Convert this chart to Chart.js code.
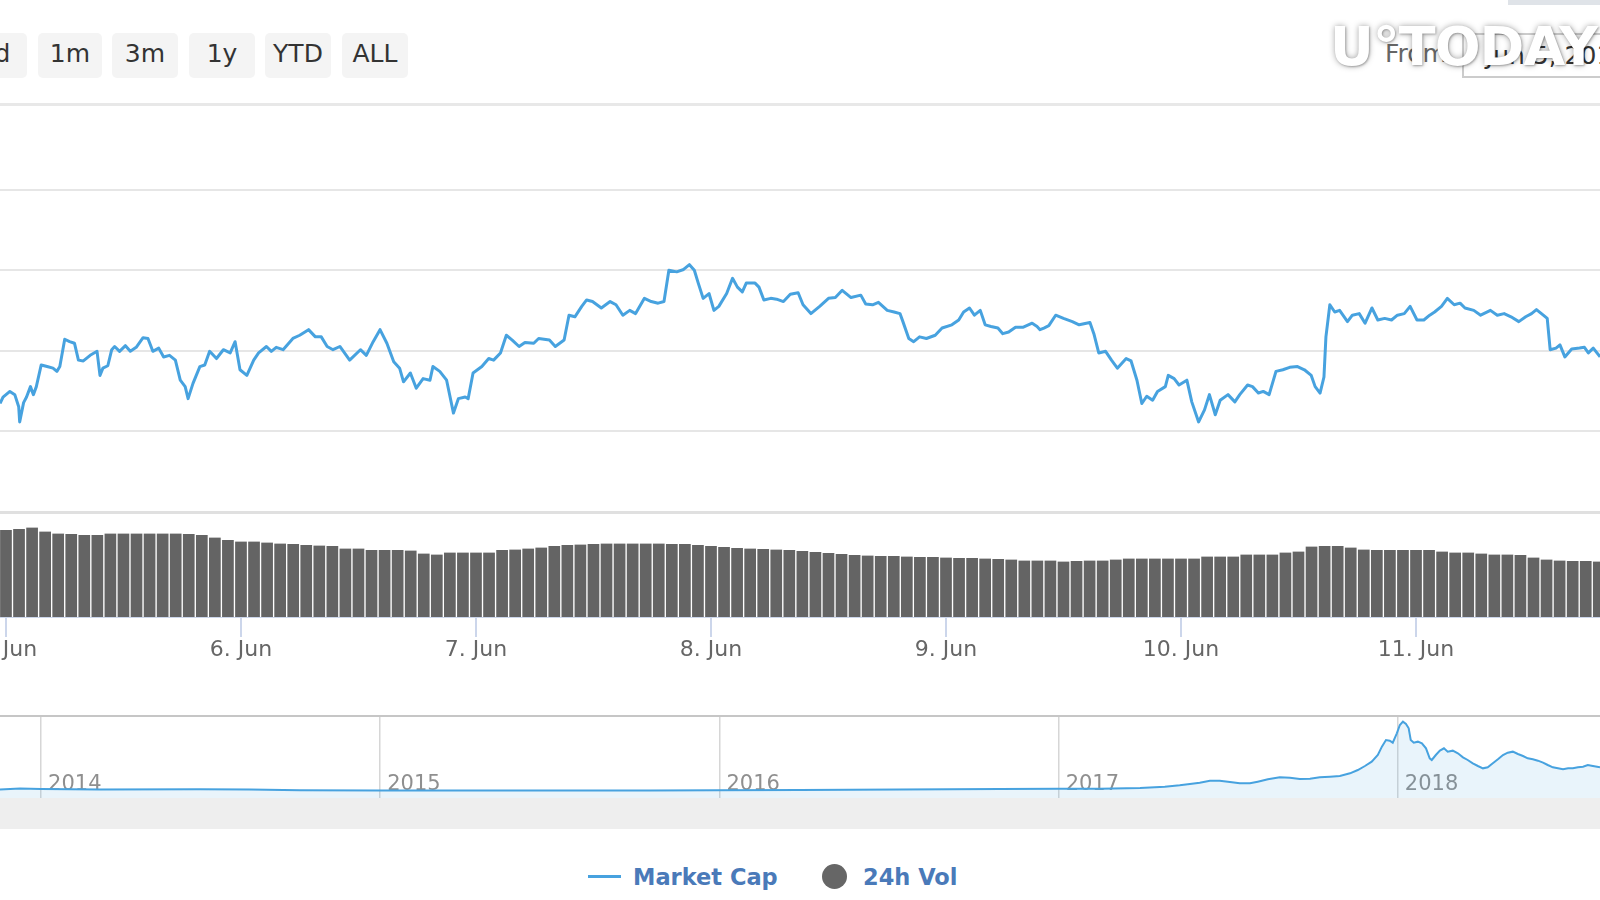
<!DOCTYPE html>
<html>
<head>
<meta charset="utf-8">
<title>Market Cap / 24h Vol</title>
<script src="https://cdn.jsdelivr.net/npm/chart.js@4.4.1/dist/chart.umd.min.js"></script>
<style>
  html, body { margin: 0; padding: 0; background: #fff; }
  body { width: 1600px; height: 900px; position: relative; overflow: hidden; font-family: 'DejaVu Sans', sans-serif; }
  canvas { position: absolute; left: 0; }
  .btn { position: absolute; top: 33px; height: 45px; width: 66px; border-radius: 5px; background: #f4f4f4; color: #333; font-size: 25px; line-height: 41px; text-align: center; }
  .rule { position: absolute; left: 0; width: 1600px; }
  .from-label { position: absolute; left: 1385px; top: 33px; font-size: 25px; line-height: 41px; color: #666; }
  .from-input { position: absolute; left: 1462px; top: 33px; width: 190px; height: 45px; box-sizing: border-box; border: 2px solid #cccccc; font-size: 25px; line-height: 41px; color: #333; text-align: center; }
  .watermark { position: absolute; left: 1330px; top: 20px; font-size: 54px; line-height: 54px; font-weight: bold; letter-spacing: -1px; color: #fff;
               text-shadow: 0 0 6px rgba(0,0,0,0.35), 1px 1px 2px rgba(0,0,0,0.25); white-space: nowrap; }
  .leg-text { position: absolute; top: 864px; font-size: 22.5px; line-height: 26px; font-weight: bold; color: #4a7ab9; white-space: nowrap; }
</style>
</head>
<body>

<!-- range selector -->
<div class="btn" style="left:-38px;width:65px">7d</div>
<div class="btn" style="left:38px;width:64px">1m</div>
<div class="btn" style="left:112px">3m</div>
<div class="btn" style="left:189px">1y</div>
<div class="btn" style="left:265px">YTD</div>
<div class="btn" style="left:342px">ALL</div>

<div style="position:absolute;left:1508px;top:0;width:92px;height:5px;background:#dfe3e8"></div>
<div class="from-label">From</div>
<div class="from-input">Jun 5, 2018</div>
<div class="watermark">U°TODAY</div>

<div class="rule" style="top:103px;height:3px;background:#e8e8e8"></div>

<canvas id="priceChart" width="1600" height="407" style="top:104px"></canvas>
<div class="rule" style="top:511px;height:3px;background:#e0e0e0"></div>
<canvas id="volumeChart" width="1600" height="163" style="top:514px"></canvas>

<!-- navigator -->
<div class="rule" style="top:715px;height:2px;background:#c6c6c6"></div>
<canvas id="navChart" width="1600" height="81" style="top:717px"></canvas>
<div class="rule" style="top:798px;height:31px;background:#eeeeee"></div>

<!-- legend -->
<div style="position:absolute;left:588px;top:875px;width:33px;height:3px;background:#47a2df"></div>
<div class="leg-text" style="left:633px">Market Cap</div>
<div style="position:absolute;left:822px;top:864px;width:25px;height:25px;border-radius:50%;background:#666"></div>
<div class="leg-text" style="left:863px">24h Vol</div>

<script>
// hours since 5 Jun 00:00 and market cap (billion USD)
const mcapHours = [
  -0.6, -0.3, 0.4, 0.9, 1.3, 1.4, 1.8, 2.1, 2.5, 2.8,
  3.1, 3.6, 4.2, 4.8, 5.2, 5.5, 6.0, 6.5, 7.0, 7.4,
  7.9, 8.6, 9.3, 9.6, 9.9, 10.4, 10.8, 11.1, 11.6, 12.2,
  12.7, 13.3, 14.0, 14.5, 15.0, 15.6, 16.1, 16.7, 17.3, 17.8,
  18.3, 18.6, 19.1, 19.8, 20.3, 20.8, 21.5, 22.2, 22.9, 23.4,
  23.9, 24.6, 25.3, 25.8, 26.6, 27.1, 27.6, 28.3, 29.3, 30.0,
  30.9, 31.6, 32.2, 32.8, 33.4, 34.1, 35.1, 36.2, 36.8, 37.5,
  38.2, 38.9, 39.6, 40.2, 40.6, 41.3, 41.9, 42.6, 43.3, 43.6,
  44.3, 45.0, 45.7, 46.2, 46.9, 47.2, 47.7, 48.6, 49.3, 49.8,
  50.5, 51.1, 51.7, 52.4, 53.0, 53.9, 54.4, 55.5, 56.1, 57.0,
  57.5, 58.1, 58.8, 59.3, 59.9, 60.8, 61.7, 62.3, 63.0, 63.7,
  64.3, 65.2, 65.9, 66.6, 67.2, 67.7, 68.5, 69.2, 69.8, 70.3,
  70.7, 71.2, 71.8, 72.3, 72.8, 73.6, 74.2, 74.7, 75.2, 75.6,
  76.5, 76.9, 77.4, 78.1, 78.7, 79.4, 80.1, 80.9, 81.4, 82.2,
  83.1, 84.0, 84.7, 85.4, 86.3, 87.3, 87.8, 88.5, 89.1, 90.0,
  90.7, 91.3, 91.6, 92.2, 92.7, 93.3, 94.0, 94.9, 95.6, 96.6,
  97.3, 97.8, 98.4, 98.9, 99.5, 100.0, 100.6, 101.3, 101.8, 102.4,
  103.1, 103.9, 104.8, 105.3, 105.6, 106.0, 106.5, 107.2, 108.0, 108.9,
  109.6, 110.7, 111.1, 111.6, 112.3, 112.9, 113.5, 114.4, 114.9, 115.5,
  116.0, 116.5, 117.1, 117.6, 118.4, 118.7, 119.3, 119.8, 120.6, 121.1,
  121.8, 122.4, 122.9, 123.5, 124.0, 124.8, 125.5, 126.0, 126.8, 127.3,
  127.9, 128.4, 129.0, 129.7, 130.4, 131.1, 131.9, 132.6, 133.3, 133.7,
  134.2, 134.6, 134.8, 135.2, 135.7, 136.2, 137.0, 137.5, 138.2, 138.8,
  139.5, 140.1, 140.8, 141.5, 142.1, 142.8, 143.4, 144.1, 144.8, 145.4,
  145.9, 146.6, 147.2, 147.9, 148.5, 149.0, 149.9, 150.6, 151.6, 152.3,
  153.0, 153.7, 154.5, 155.2, 155.8, 156.3, 157.0, 157.4, 157.7, 158.3,
  158.7, 159.2, 159.9, 160.7, 161.2, 161.6, 162.1, 162.8, 163.5
];
const mcapValues = [
  293.4, 294.2, 294.9, 294.5, 293.0, 291.1, 293.5, 294.2, 295.5, 294.5,
  295.5, 298.2, 298.0, 297.8, 297.4, 298.0, 301.4, 301.1, 300.9, 298.8,
  298.7, 299.4, 299.9, 296.9, 297.8, 298.1, 300.1, 300.5, 299.9, 300.6,
  299.9, 300.4, 301.6, 301.5, 299.9, 300.3, 299.2, 299.4, 298.8, 296.3,
  295.5, 294.0, 295.9, 298.0, 298.2, 299.9, 299.0, 300.1, 299.7, 301.1,
  297.6, 296.9, 298.8, 299.7, 300.5, 299.9, 300.4, 300.1, 301.5, 301.9,
  302.6, 301.7, 301.7, 300.5, 300.1, 300.5, 298.8, 300.1, 299.4, 301.1,
  302.6, 300.9, 298.6, 297.8, 296.1, 297.2, 295.3, 296.5, 296.3, 298.0,
  297.4, 296.3, 292.2, 294.0, 294.2, 294.0, 297.2, 298.0, 299.0, 298.8,
  299.7, 301.9, 301.3, 300.5, 301.0, 300.9, 301.5, 301.3, 300.5, 301.3,
  304.4, 304.2, 305.5, 306.3, 306.1, 305.3, 306.1, 305.7, 304.4, 305.0,
  304.6, 306.5, 306.1, 305.9, 306.1, 310.0, 309.8, 310.1, 310.7, 310.0,
  308.4, 306.5, 307.1, 305.0, 305.5, 307.1, 309.0, 307.9, 307.3, 308.4,
  308.4, 307.9, 306.3, 306.5, 306.4, 306.1, 307.0, 307.2, 305.7, 304.6,
  305.5, 306.5, 306.6, 307.5, 306.6, 306.9, 305.8, 305.7, 306.0, 305.0,
  304.8, 304.6, 303.6, 301.5, 301.1, 301.7, 301.5, 301.9, 302.8, 303.2,
  303.8, 304.8, 305.3, 304.4, 305.0, 303.2, 303.0, 302.8, 302.1, 302.3,
  302.9, 302.9, 303.4, 303.0, 302.6, 302.8, 303.1, 304.4, 304.0, 303.6,
  303.2, 303.5, 302.1, 299.7, 299.9, 298.8, 297.8, 299.0, 298.7, 296.3,
  293.4, 294.3, 293.8, 294.9, 295.5, 296.9, 296.5, 295.7, 296.3, 293.6,
  291.1, 292.6, 294.5, 292.0, 293.8, 294.5, 293.6, 294.5, 295.7, 295.5,
  294.7, 294.9, 294.5, 297.4, 297.6, 297.9, 298.0, 297.6, 296.9, 295.5,
  294.7, 296.7, 301.7, 305.7, 304.8, 305.0, 303.6, 304.4, 304.6, 303.4,
  305.3, 303.8, 304.0, 303.8, 304.4, 304.6, 305.5, 303.8, 303.8, 304.4,
  304.8, 305.5, 306.5, 305.7, 305.9, 305.3, 305.0, 304.4, 305.0, 304.4,
  304.6, 304.2, 303.6, 304.2, 304.6, 305.1, 304.4, 304.0, 300.1, 300.3,
  300.7, 299.2, 300.2, 300.3, 300.4, 299.7, 300.3, 299.2, 299.6
];

// 24h volume (billion USD), one bar per 80 minutes from 5 Jun 00:00
const volumeValues = [
  17.4, 17.6, 17.9, 17.1, 16.7, 16.6, 16.4, 16.4, 16.7, 16.7, 16.7, 16.7, 16.7, 16.7, 16.6, 16.4, 15.9, 15.4, 15.1, 15.1,
  14.9, 14.7, 14.6, 14.4, 14.3, 14.2, 13.7, 13.7, 13.4, 13.4, 13.4, 13.3, 12.7, 12.5, 12.9, 12.9, 12.9, 12.9, 13.4, 13.5, 13.7, 13.9,
  14.2, 14.4, 14.5, 14.6, 14.7, 14.7, 14.7, 14.7, 14.7, 14.6, 14.6, 14.4, 14.2, 14.0, 13.8, 13.7, 13.6, 13.5, 13.4, 13.2,
  13.0, 12.8, 12.6, 12.4, 12.3, 12.2, 12.2, 12.1, 12.0, 12.0, 11.9, 11.8, 11.8, 11.7, 11.6, 11.5,
  11.3, 11.3, 11.3, 11.1, 11.2, 11.3, 11.3, 11.5, 11.7, 11.7, 11.7, 11.7, 11.7, 11.7, 12.1, 12.1, 12.1, 12.5, 12.5, 12.5,
  12.9, 13.1, 14.1, 14.2, 14.2, 13.9, 13.5, 13.4, 13.4, 13.4, 13.4, 13.4, 13.1, 12.9, 12.9, 12.7, 12.5, 12.5, 12.4, 11.9,
  11.5, 11.3, 11.2, 11.2, 11.1
];
const VOL_STEP_HOURS = 4 / 3;

const dayLabels = ['5. Jun', '6. Jun', '7. Jun', '8. Jun', '9. Jun', '10. Jun', '11. Jun', '12. Jun'];

// navigator: decimal year and market cap (billion USD)
const navYears = [
  2013.879, 2013.938, 2014.0, 2014.174, 2014.469, 2014.616, 2014.763, 2014.993, 2015.206, 2015.5,
  2015.795, 2015.993, 2016.237, 2016.532, 2016.827, 2017.001, 2017.122, 2017.24, 2017.313, 2017.357,
  2017.387, 2017.416, 2017.446, 2017.475, 2017.505, 2017.534, 2017.564, 2017.587, 2017.617, 2017.652,
  2017.682, 2017.711, 2017.741, 2017.77, 2017.8, 2017.829, 2017.859, 2017.882, 2017.903, 2017.923,
  2017.941, 2017.953, 2017.965, 2017.976, 2017.985, 2017.997, 2018.006, 2018.015, 2018.024, 2018.032,
  2018.038, 2018.047, 2018.059, 2018.071, 2018.083, 2018.094, 2018.1, 2018.112, 2018.124, 2018.136,
  2018.147, 2018.162, 2018.177, 2018.192, 2018.206, 2018.221, 2018.236, 2018.251, 2018.265, 2018.28,
  2018.295, 2018.31, 2018.324, 2018.339, 2018.354, 2018.369, 2018.383, 2018.398, 2018.413, 2018.428,
  2018.442, 2018.457, 2018.472, 2018.487, 2018.502, 2018.516, 2018.531, 2018.546, 2018.56, 2018.575,
  2018.596
];
const navValues = [
  16, 28, 22, 16, 18, 15, 8, 4, 4, 3,
  4, 6, 10, 16, 22, 26, 26, 34, 50, 66,
  82, 98, 122, 122, 106, 90, 90, 110, 138, 162,
  158, 142, 146, 162, 170, 178, 210, 250, 298, 350,
  430, 530, 610, 602, 578, 690, 790, 830, 802, 750,
  610, 578, 590, 570, 510, 390, 370, 430, 482, 510,
  470, 482, 450, 402, 370, 330, 298, 270, 282, 330,
  378, 430, 458, 470, 442, 418, 390, 378, 362, 338,
  310, 282, 270, 258, 270, 270, 282, 290, 310, 298,
  282
];

const X_MIN = -0.61, X_MAX = 162.79;
const LINE_BLUE = '#47a2df';

Chart.defaults.font.family = "'DejaVu Sans', sans-serif";
Chart.defaults.animation = false;
Chart.defaults.events = [];
Chart.defaults.plugins.legend.display = false;
Chart.defaults.plugins.tooltip.enabled = false;

// market cap line
new Chart(document.getElementById('priceChart'), {
  type: 'line',
  data: {
    datasets: [{
      label: 'Market Cap',
      data: mcapHours.map((h, i) => ({ x: h, y: mcapValues[i] })),
      borderColor: LINE_BLUE,
      borderWidth: 3,
      borderJoinStyle: 'round',
      pointRadius: 0,
      tension: 0,
      fill: false
    }]
  },
  options: {
    responsive: false,
    layout: { padding: 0, autoPadding: false },
    scales: {
      x: { type: 'linear', display: false, min: X_MIN, max: X_MAX },
      y: {
        min: 280, max: 330.72,
        afterFit: s => { s.width = 0; },
        afterBuildTicks: s => { s.ticks = s.ticks.filter(t => t.value > 280 && t.value <= 320); },
        ticks: { display: false, stepSize: 10 },
        grid: { color: '#e6e6e6', lineWidth: 2, drawTicks: false },
        border: { display: false }
      }
    }
  }
});

// 24h volume columns + date axis
new Chart(document.getElementById('volumeChart'), {
  type: 'bar',
  data: {
    datasets: [{
      label: '24h Vol',
      data: volumeValues.map((v, i) => ({ x: i * VOL_STEP_HOURS, y: v })),
      backgroundColor: '#646464',
      borderColor: '#ffffff',
      borderWidth: { left: 1, right: 1, top: 0, bottom: 0 },
      barPercentage: 1,
      categoryPercentage: 1
    }]
  },
  options: {
    responsive: false,
    layout: { padding: 0, autoPadding: false },
    scales: {
      x: {
        type: 'linear', min: X_MIN, max: X_MAX, offset: false,
        // labels are allowed to run off the canvas edges, like the cropped original
        afterFit: s => { s.height = 60; s.paddingLeft = 0; s.paddingRight = 0; },
        grid: { offset: false, drawOnChartArea: false, drawTicks: true, tickLength: 20, color: '#ccd6eb', lineWidth: 2 },
        border: { color: '#ccd6eb', width: 2 },
        ticks: {
          stepSize: 24, includeBounds: false, autoSkip: false, maxRotation: 0, padding: 0,
          color: '#666666', font: { size: 22 },
          callback: v => dayLabels[Math.round(v / 24)]
        }
      },
      y: { display: false, min: 0, max: 20.6 }
    }
  }
});

// navigator
new Chart(document.getElementById('navChart'), {
  type: 'line',
  data: {
    datasets: [{
      data: navYears.map((yr, i) => ({ x: yr, y: navValues[i] })),
      borderColor: LINE_BLUE,
      borderWidth: 2,
      backgroundColor: 'rgba(71,162,223,0.12)',
      fill: 'start',
      pointRadius: 0,
      tension: 0
    }]
  },
  options: {
    responsive: false,
    layout: { padding: 0, autoPadding: false },
    scales: {
      x: {
        type: 'linear', min: 2013.879, max: 2018.596,
        afterFit: s => { s.height = 0; s.paddingLeft = 0; s.paddingRight = 0; },
        grid: { color: '#d6d6d6', lineWidth: 1.5, drawTicks: false },
        border: { display: false },
        ticks: {
          stepSize: 1, includeBounds: false, autoSkip: false, maxRotation: 0,
          mirror: true, align: 'start', labelOffset: 7, padding: 1,
          color: '#8f8f8f', font: { size: 21 },
          callback: v => String(v)
        }
      },
      y: { display: false, min: -86, max: 886 }
    }
  }
});
</script>
</body>
</html>
